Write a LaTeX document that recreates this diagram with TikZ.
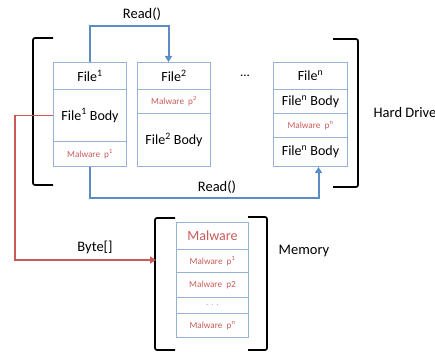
\documentclass[tikz,border=0pt]{standalone}
\usepackage{fontspec}
\setmainfont{Carlito}
\usetikzlibrary{arrows.meta,calc}
\definecolor{boxblue}{HTML}{95B3D7}
\definecolor{linkblue}{HTML}{5B8CC6}
\definecolor{mred}{HTML}{C95A57}
\begin{document}
\begin{tikzpicture}[x=1pt,y=-1pt,
  cell/.style={draw=boxblue, line width=1pt, inner sep=0pt, anchor=north west,
    font=\fontsize{14}{16}\selectfont},
  small/.style={text=mred, font=\fontsize{9.2}{11}\selectfont},
  label/.style={font=\fontsize{14.5}{17}\selectfont},
  brk/.style={line width=1.7pt, rounded corners=2pt},
  link/.style={draw=linkblue, line width=2pt, -{Triangle[length=6pt,width=7pt]}},
  redlink/.style={draw=mred, line width=1.6pt, -{Triangle[length=6pt,width=7pt]}}]
\useasboundingbox (0,0) rectangle (435,352);
% File 1
\node[cell, minimum width=73pt, minimum height=27pt] (f1h) at (53,62) {File\textsuperscript{1}};
\node[cell, minimum width=73pt, minimum height=52pt] (f1b) at (53,89) {File\textsuperscript{1} Body};
\node[cell, small, minimum width=73pt, minimum height=25pt] (f1m) at (53,141) {Malware\ \ p\textsuperscript{1}};
% File 2
\node[cell, minimum width=73pt, minimum height=27pt] (f2h) at (137,62) {File\textsuperscript{2}};
\node[cell, small, minimum width=73pt, minimum height=24pt] (f2m) at (137,89) {Malware\ \ p\textsuperscript{2}};
\node[cell, minimum width=73pt, minimum height=53pt] (f2b) at (137,113) {File\textsuperscript{2} Body};
% dots
\node[font=\fontsize{13}{15}\selectfont] (dots) at (245,76) {...};
% File n
\node[cell, minimum width=74pt, minimum height=27pt] (fnh) at (273,62) {File\textsuperscript{n}};
\node[cell, minimum width=74pt, minimum height=24pt] (fnb1) at (273,89) {File\textsuperscript{n} Body};
\node[cell, small, minimum width=74pt, minimum height=24pt] (fnm) at (273,113) {Malware\ \ p\textsuperscript{n}};
\node[cell, minimum width=74pt, minimum height=29pt] (fnb2) at (273,137) {File\textsuperscript{n} Body};
% Memory
\node[cell, text=mred, minimum width=72pt, minimum height=27pt] (mm) at (176,222) {Malware};
\node[cell, small, minimum width=72pt, minimum height=23pt] (mp1) at (176,249) {Malware\ \ p\textsuperscript{1}};
\node[cell, small, minimum width=72pt, minimum height=25pt] (mp2) at (176,272) {Malware\ \ p2};
\node[cell, small, text=mred!60, minimum width=72pt, minimum height=16pt] (mdots) at (176,297) {. . .};
\node[cell, small, minimum width=72pt, minimum height=24pt] (mpn) at (176,313) {Malware\ \ p\textsuperscript{n}};
% brackets
\draw[brk] (53,38) -- (33,38) -- (33,185) -- (53,185);
\draw[brk] (333,39) -- (358,39) -- (358,187) -- (333,187);
\draw[brk] (175,218) -- (155,218) -- (155,350) -- (175,350);
\draw[brk] (248,217) -- (267,217) -- (267,350) -- (248,350);
% labels
\node[label] (hd) at (405,113) {Hard Drive};
\node[label] (mem) at (304,251) {Memory};
\node[label] (r1) at (142,14) {Read()};
\node[label] (r2) at (217,187) {Read()};
\node[label] (bt) at (95,247) {Byte[]};
% connectors
\coordinate (memin) at (156,260);
\draw[link] (f1h.north) -- ++(0,-36) -| ([xshift=-5.5pt]f2h.north);
\draw[link] (f1m.south) -- ++(0,31) -| ([xshift=8pt]fnb2.south);
\draw[redlink] (f1b.west) -- ++(-38,0) |- (memin);
\end{tikzpicture}
\end{document}
